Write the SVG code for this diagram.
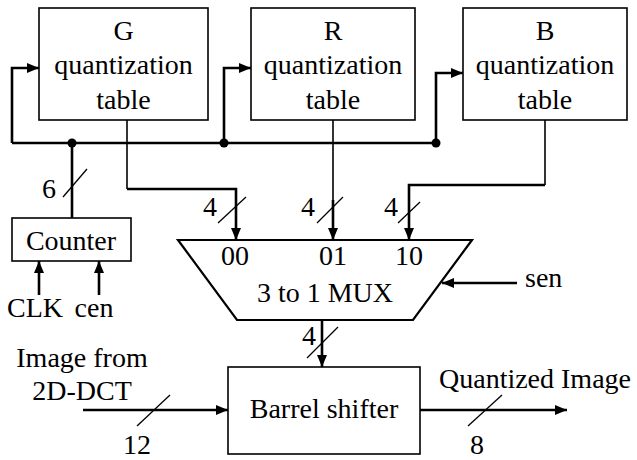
<svg xmlns="http://www.w3.org/2000/svg" width="637" height="460" viewBox="0 0 637 460">
<style>
text{font-family:"Liberation Serif","Times New Roman",serif;font-size:28px;fill:#000}
.box{fill:#fff;stroke:#000;stroke-width:1.6}
.w{fill:none;stroke:#000;stroke-width:2.6}
.t{fill:none;stroke:#000;stroke-width:1.6}
.s{fill:none;stroke:#000;stroke-width:1.3}
</style>
<defs>
<marker id="ah" markerUnits="userSpaceOnUse" markerWidth="12" markerHeight="10" viewBox="0 0 12 10" refX="12" refY="5" orient="auto">
<path d="M0,0 L12,5 L0,10 z" fill="#000"/>
</marker>
</defs>
<g id="connectors">
<path class="w" d="M12,143 H436"/>
<path class="w" d="M12,143 V68 H39" marker-end="url(#ah)"/>
<path class="w" d="M224,143 V68 H251" marker-end="url(#ah)"/>
<path class="w" d="M436,143 V73 H463" marker-end="url(#ah)"/>
<circle cx="72" cy="143" r="4.5"/>
<circle cx="224" cy="143" r="4.5"/>
<circle cx="436" cy="143" r="4.5"/>
<path class="w" d="M72,218 V143"/>
<path class="s" d="M63,197 L87,169"/>
<text x="49" y="198" text-anchor="middle">6</text>
<path class="t" d="M127,120 V189"/>
<path class="w" d="M127,189 H236 V240" marker-end="url(#ah)"/>
<path class="t" d="M333,120 V200"/>
<path class="w" d="M333,200 V240" marker-end="url(#ah)"/>
<path class="t" d="M545,120 V185"/>
<path class="w" d="M545,185 H409 V240" marker-end="url(#ah)"/>
<path class="s" d="M218,223 L246,197"/>
<text x="210" y="216" text-anchor="middle">4</text>
<path class="s" d="M317,223 L343,197"/>
<text x="308" y="216" text-anchor="middle">4</text>
<path class="s" d="M398,223 L420,202"/>
<text x="391" y="216" text-anchor="middle">4</text>
<path class="w" d="M39,295 V261" marker-end="url(#ah)"/>
<path class="w" d="M99,295 V261" marker-end="url(#ah)"/>
<path class="w" d="M517,283 H442" marker-end="url(#ah)"/>
<path class="w" d="M322,320 V367" marker-end="url(#ah)"/>
<path class="s" d="M307,358 L338,327"/>
<text x="309" y="345" text-anchor="middle">4</text>
<path class="w" d="M83,410 H228" marker-end="url(#ah)"/>
<path class="s" d="M137,426 L170,395"/>
<text x="137" y="454" text-anchor="middle">12</text>
<path class="w" d="M420,410 H567" marker-end="url(#ah)"/>
<path class="s" d="M468,426 L502,395"/>
<text x="477" y="454" text-anchor="middle">8</text>
</g>
<g id="g_table">
<rect class="box" x="39" y="8" width="169" height="112"/>
<text x="123.5" y="40" text-anchor="middle">G</text>
<text x="123.5" y="74" text-anchor="middle">quantization</text>
<text x="123.5" y="109" text-anchor="middle">table</text>
</g>
<g id="r_table">
<rect class="box" x="251" y="8" width="164" height="112"/>
<text x="333" y="40" text-anchor="middle">R</text>
<text x="333" y="74" text-anchor="middle">quantization</text>
<text x="333" y="109" text-anchor="middle">table</text>
</g>
<g id="b_table">
<rect class="box" x="463" y="8" width="164" height="112"/>
<text x="545" y="40" text-anchor="middle">B</text>
<text x="545" y="74" text-anchor="middle">quantization</text>
<text x="545" y="109" text-anchor="middle">table</text>
</g>
<g id="counter">
<rect class="box" x="12" y="218" width="119" height="43"/>
<text x="71" y="250" text-anchor="middle">Counter</text>
<text x="35" y="317" text-anchor="middle">CLK</text>
<text x="94" y="317" text-anchor="middle">cen</text>
</g>
<g id="mux">
<path d="M178,240 H472 L413,320 H237 Z" fill="#fff" stroke="#000" stroke-width="2.2"/>
<text x="235" y="265" text-anchor="middle">00</text>
<text x="333" y="265" text-anchor="middle">01</text>
<text x="409" y="265" text-anchor="middle">10</text>
<text x="325" y="302" text-anchor="middle">3 to 1 MUX</text>
<text x="525" y="287">sen</text>
</g>
<g id="barrel">
<rect class="box" x="228" y="367" width="192" height="87"/>
<text x="324" y="418" text-anchor="middle">Barrel shifter</text>
</g>
<g id="labels">
<text x="82" y="367" text-anchor="middle">Image from</text>
<text x="82" y="400" text-anchor="middle">2D-DCT</text>
<text x="535" y="388" text-anchor="middle">Quantized Image</text>
</g>
</svg>
